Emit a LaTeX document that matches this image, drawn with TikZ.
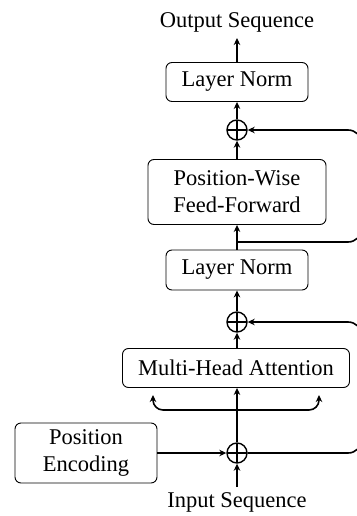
\documentclass[tikz,border=0pt]{standalone}
\usepackage{fontspec}
\setmainfont{Liberation Serif}
\usetikzlibrary{arrows.meta}
\begin{document}
\begin{tikzpicture}[x=1pt,y=-1pt,
  box/.style={draw, line width=0.9pt, rounded corners=6pt, align=center, inner sep=0pt, font=\fontsize{22.5}{27}\selectfont},
  lbl/.style={font=\fontsize{22.5}{27}\selectfont, inner sep=0pt},
  conn/.style={line width=1.6pt, -{Stealth[length=7pt,width=6.5pt]}},
  adder/.style={circle, draw, line width=1.4pt, minimum size=20pt, inner sep=0pt,
    path picture={\draw[line width=1.4pt] (path picture bounding box.north) -- (path picture bounding box.south)
      (path picture bounding box.west) -- (path picture bounding box.east);}}]
\useasboundingbox (0,0) rectangle (356,516);
\node[lbl] (out) at (237,22) {Output Sequence};
\node[box, minimum width=142pt, minimum height=39pt] (ln2) at (237,82) {Layer Norm};
\node[adder] (add2) at (237,130) {};
\node[box, minimum width=178pt, minimum height=65pt] (ffn) at (237,192) {Position-Wise\\Feed-Forward};
\node[box, minimum width=142pt, minimum height=40pt] (ln1) at (237,270) {Layer Norm};
\node[adder] (add1) at (237,322) {};
\node[box, minimum width=227pt, minimum height=39pt] (mha) at (236,368) {Multi-Head Attention};
\node[adder] (add0) at (237,453) {};
\node[box, minimum width=142pt, minimum height=60pt] (pe) at (86,453) {Position\\Encoding};
\node[lbl] (in) at (237,502) {Input Sequence};
\coordinate (outTip) at (237,38);
\coordinate (inStart) at (237,487);
\coordinate (b1) at (237,242);
\coordinate (rA) at (362,242);
\coordinate (rB) at (362,453);
\coordinate (b2) at (237,410);
\coordinate (qL) at (153,395);
\coordinate (qR) at (319,395);
\draw[conn] (ln2.north) -- (outTip);
\draw[conn] (add2.north) -- (ln2.south);
\draw[conn] (ffn.north -| add2) -- (add2.south);
\draw[conn] (ln1.north) -- (ffn.south -| ln1);
\draw[conn] (add1.north) -- (ln1.south);
\draw[conn] (mha.north -| add1) -- (add1.south);
\draw[conn] (add0.north) -- (mha.south -| add0);
\draw[conn] (pe.east) -- (add0.west);
\draw[conn] (inStart) -- (add0.south);
\draw[conn, rounded corners=14pt] (b1) -- (rA) |- (add2.east);
\draw[conn, rounded corners=14pt] (add0.east) -- (rB) |- (add1.east);
\draw[conn, rounded corners=10pt] (b2) -| (qL);
\draw[conn, rounded corners=10pt] (b2) -| (qR);
\end{tikzpicture}
\end{document}
